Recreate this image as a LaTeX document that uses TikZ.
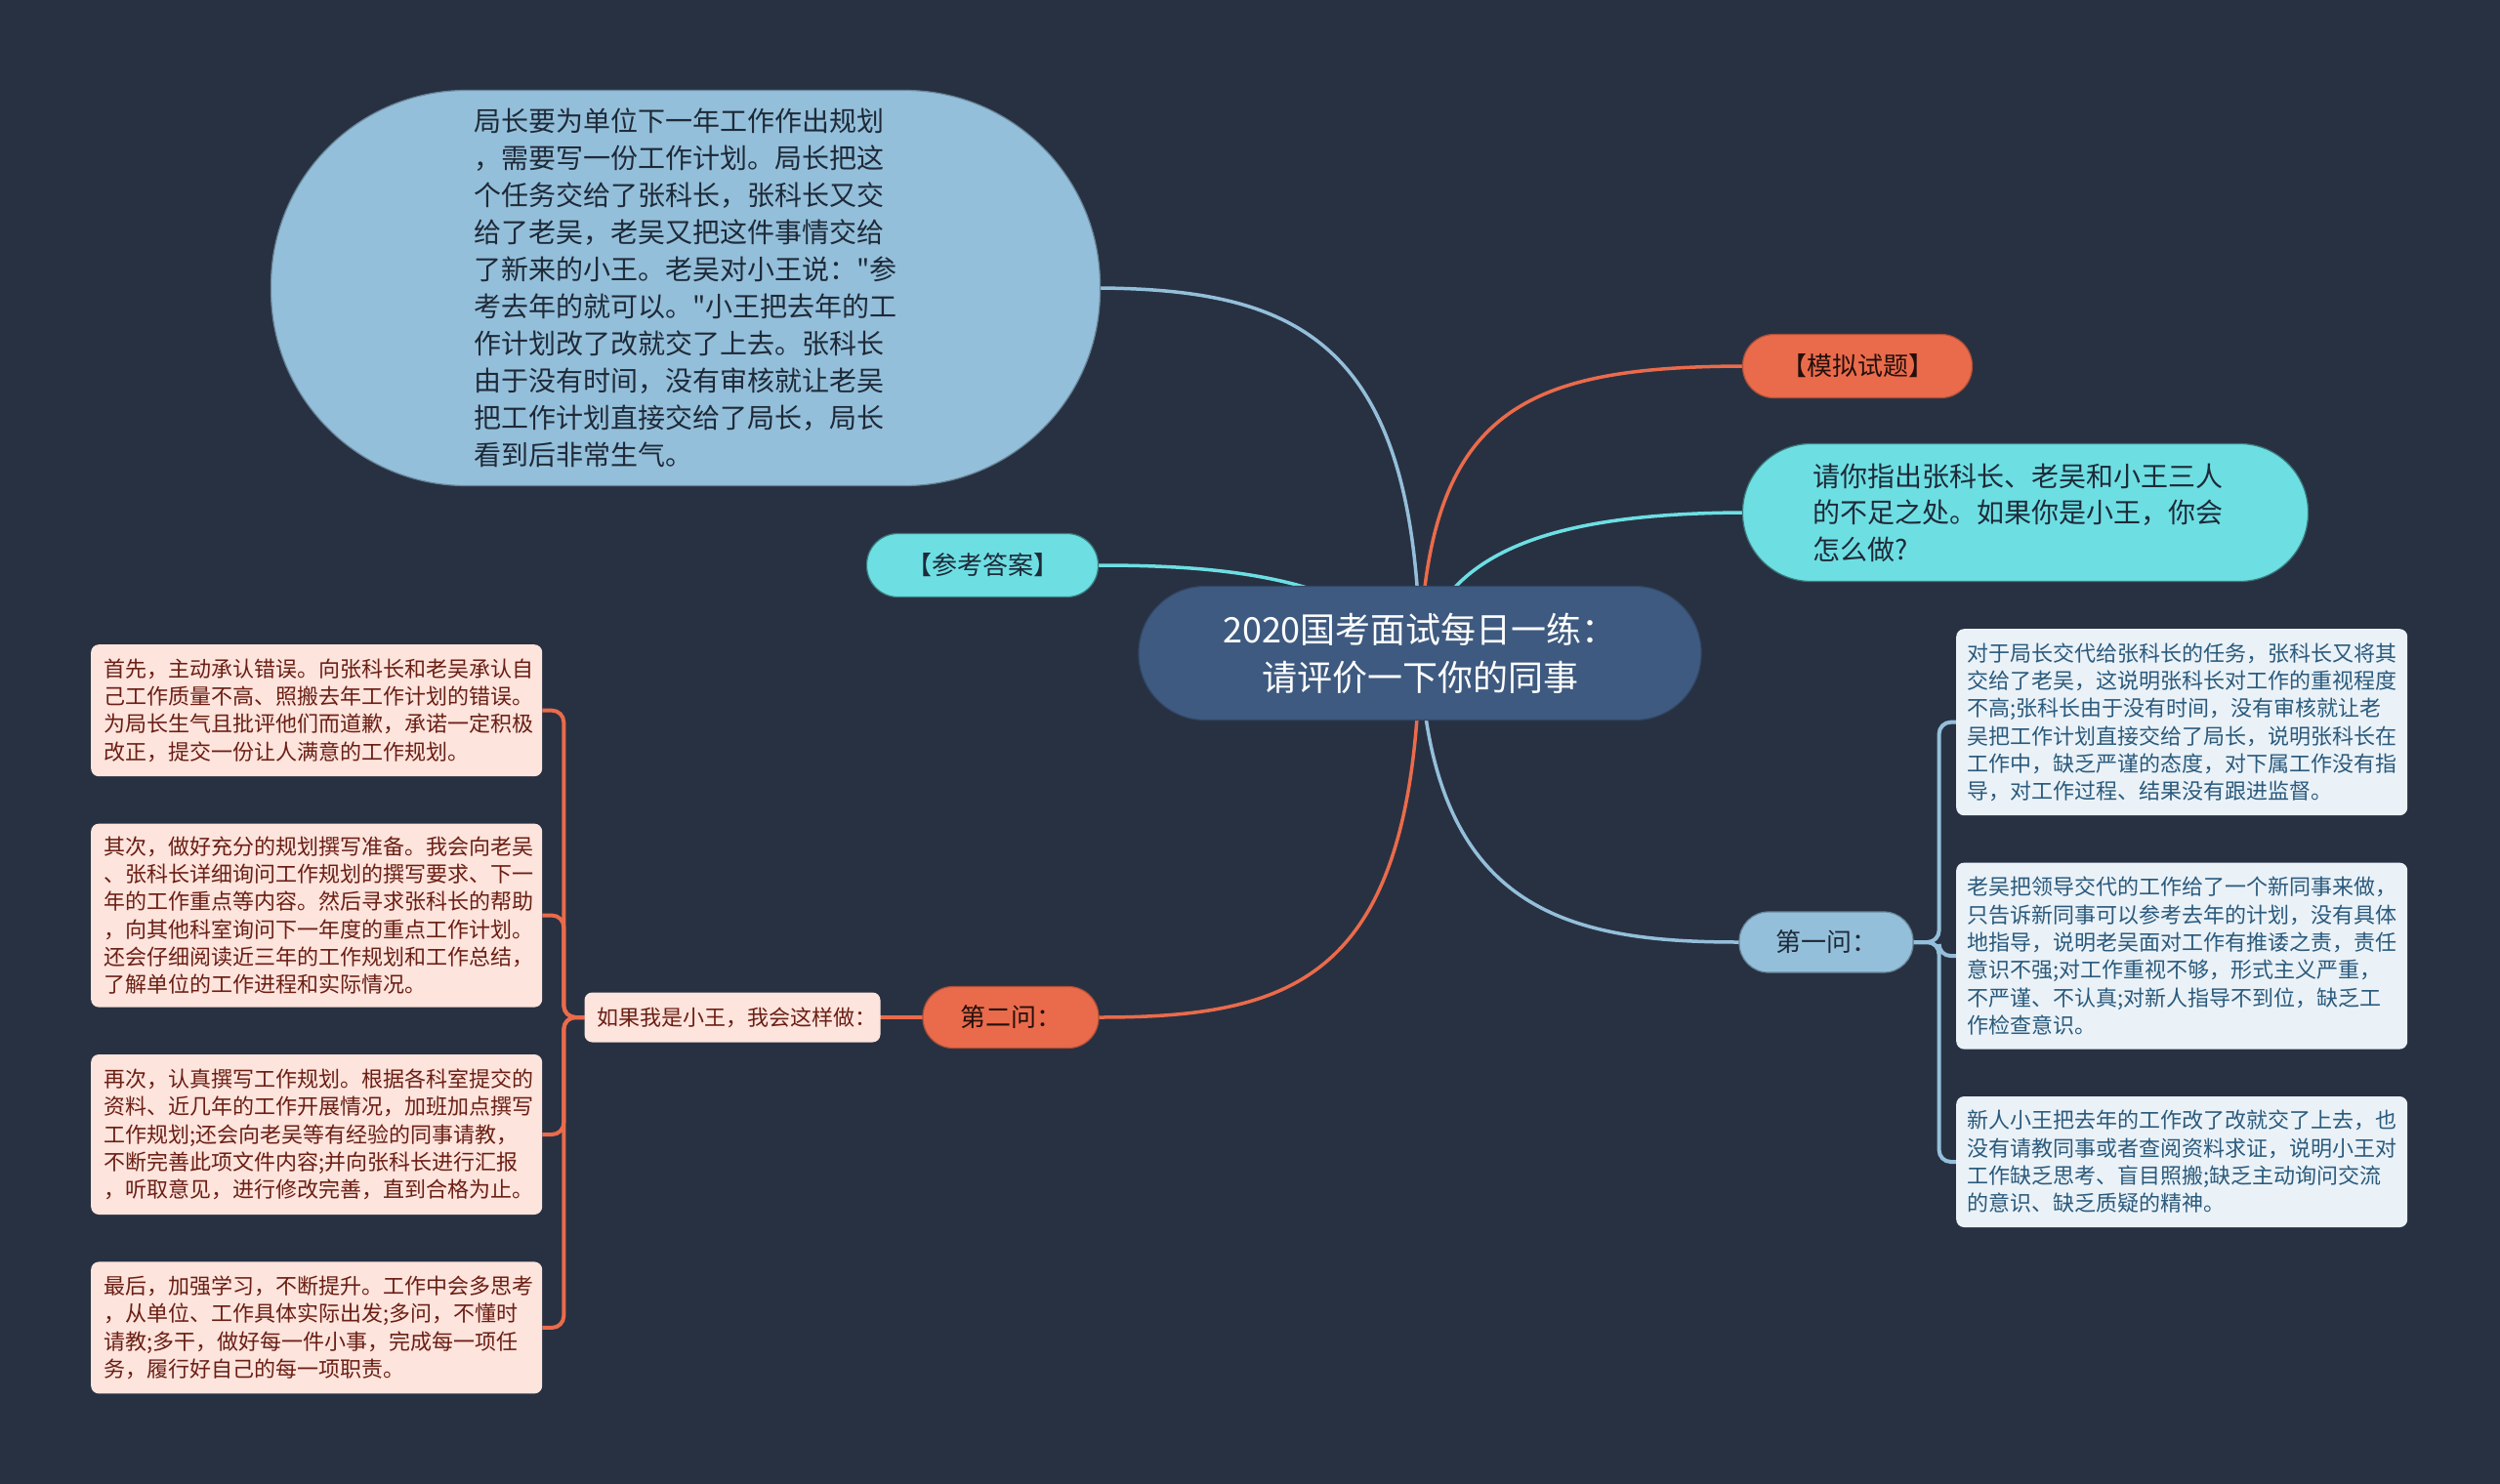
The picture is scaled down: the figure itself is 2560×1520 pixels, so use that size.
\documentclass[tikz,border=0pt]{standalone}
\usepackage{fontspec}
\setmainfont{Noto Sans CJK SC}[Ligatures=TeXOff]
\usetikzlibrary{positioning,backgrounds}
\pgfdeclarelayer{canvas}
\pgfsetlayers{canvas,background,main}
\definecolor{bgdark}{HTML}{283142}
\definecolor{rootblue}{HTML}{3E5A80}
\definecolor{paleblue}{HTML}{94BFDA}
\definecolor{aqua}{HTML}{6DDFE3}
\definecolor{coral}{HTML}{EA6B4B}
\definecolor{blush}{HTML}{FDE4DD}
\definecolor{mist}{HTML}{EAF2F8}
\definecolor{inkred}{HTML}{6B1F14}
\definecolor{inkblue}{HTML}{2B5A7C}
\definecolor{inkdark}{HTML}{1E2A38}
\newcommand{\fs}[2]{\fontsize{#1}{#2}\selectfont}
\tikzset{
  pill/.style={
    rectangle,
    align=left,
    inner sep=0pt,
    text=inkdark,
    line width=1.2pt
  },
  rootpill/.style={
    pill,
    align=center,
    fill=rootblue,
    draw=rootblue!80!black,
    text=white,
    minimum width=576pt,
    minimum height=137pt,
    rounded corners=68pt,
    font=\fs{36}{49}
  },
  bluepill/.style={
    pill,
    fill=paleblue,
    draw=paleblue!70!black
  },
  aquapill/.style={
    pill,
    fill=aqua,
    draw=aqua!55!black,
    text=inkdark
  },
  coralpill/.style={
    pill,
    fill=coral,
    draw=coral!75!black,
    text=black!85!coral
  },
  leftbox/.style={
    rectangle,
    rounded corners=8pt,
    fill=blush,
    text=inkred,
    align=left,
    text width=436pt,
    inner xsep=13pt,
    inner ysep=0pt,
    font=\fs{22}{28.3}
  },
  rightbox/.style={
    leftbox,
    fill=mist,
    text=inkblue,
    text width=440pt,
    inner xsep=11pt
  },
  link/.style={
    line width=3.5pt,
    line cap=round
  },
  bracket/.style={
    line width=4pt,
    rounded corners=12pt
  }
}
\begin{document}
\begin{tikzpicture}[x=1pt, y=-1pt, node distance=48pt]
  \begin{pgfonlayer}{canvas}
    \fill[bgdark] (0,0) rectangle (2560,1520);
  \end{pgfonlayer}
  \useasboundingbox (0,0) rectangle (2560,1520);

  \node[rootpill] (root) at (1454,669) {2020国考面试每日一练：\\请评价一下你的同事};

  \node[bluepill, minimum width=849pt, minimum height=405pt, rounded corners=200pt, font=\fs{28}{38}] (story) at (702,295)
    {局长要为单位下一年工作作出规划\\，需要写一份工作计划。局长把这\\个任务交给了张科长，张科长又交\\给了老吴，老吴又把这件事情交给\\了新来的小王。老吴对小王说："参\\考去年的就可以。"小王把去年的工\\作计划改了改就交了上去。张科长\\由于没有时间，没有审核就让老吴\\把工作计划直接交给了局长，局长\\看到后非常生气。};
  \node[coralpill, minimum width=235pt, minimum height=65pt, rounded corners=32pt, font=\fs{26}{30}] (mock) at (1902,375) {【模拟试题】};
  \node[aquapill, text width=436pt, minimum width=579pt, minimum height=141pt, rounded corners=70pt, font=\fs{28}{37.5}] (task) at (2074,525)
    {请你指出张科长、老吴和小王三人\\的不足之处。如果你是小王，你会\\怎么做?};
  \node[aquapill, minimum width=237pt, minimum height=65pt, rounded corners=32pt, font=\fs{26}{30}] (answer) at (1006,579) {【参考答案】};
  \node[bluepill, minimum width=178pt, minimum height=62pt, rounded corners=30pt, font=\fs{26}{30}] (q1) at (1870,965) {第一问：};
  \node[coralpill, minimum width=180pt, minimum height=63pt, rounded corners=31pt, font=\fs{26}{30}] (q2) at (1035,1042) {第二问：};
  \node[leftbox, text width=277pt, minimum height=51pt, font=\fs{22}{26}] (plan) at (750,1042) {如果我是小王，我会这样做：};

  \node[leftbox, minimum height=135pt, anchor=north west] (a1) at (93,660)
    {首先，主动承认错误。向张科长和老吴承认自\\己工作质量不高、照搬去年工作计划的错误。\\为局长生气且批评他们而道歉，承诺一定积极\\改正，提交一份让人满意的工作规划。};
  \node[leftbox, minimum height=188pt, below=of a1] (a2)
    {其次，做好充分的规划撰写准备。我会向老吴\\、张科长详细询问工作规划的撰写要求、下一\\年的工作重点等内容。然后寻求张科长的帮助\\，向其他科室询问下一年度的重点工作计划。\\还会仔细阅读近三年的工作规划和工作总结，\\了解单位的工作进程和实际情况。};
  \node[leftbox, minimum height=164pt, below=of a2] (a3)
    {再次，认真撰写工作规划。根据各科室提交的\\资料、近几年的工作开展情况，加班加点撰写\\工作规划;还会向老吴等有经验的同事请教，\\不断完善此项文件内容;并向张科长进行汇报\\，听取意见，进行修改完善，直到合格为止。};
  \node[leftbox, minimum height=135pt, below=of a3] (a4)
    {最后，加强学习，不断提升。工作中会多思考\\，从单位、工作具体实际出发;多问，不懂时\\请教;多干，做好每一件小事，完成每一项任\\务，履行好自己的每一项职责。};

  \node[rightbox, minimum height=191pt, anchor=north west] (f1) at (2003,644)
    {对于局长交代给张科长的任务，张科长又将其\\交给了老吴，这说明张科长对工作的重视程度\\不高;张科长由于没有时间，没有审核就让老\\吴把工作计划直接交给了局长，说明张科长在\\工作中，缺乏严谨的态度，对下属工作没有指\\导，对工作过程、结果没有跟进监督。};
  \node[rightbox, minimum height=191pt, below=of f1] (f2)
    {老吴把领导交代的工作给了一个新同事来做，\\只告诉新同事可以参考去年的计划，没有具体\\地指导，说明老吴面对工作有推诿之责，责任\\意识不强;对工作重视不够，形式主义严重，\\不严谨、不认真;对新人指导不到位，缺乏工\\作检查意识。};
  \node[rightbox, minimum height=134pt, below=of f2] (f3)
    {新人小王把去年的工作改了改就交了上去，也\\没有请教同事或者查阅资料求证，说明小王对\\工作缺乏思考、盲目照搬;缺乏主动询问交流\\的意识、缺乏质疑的精神。};

  \begin{scope}[on background layer]
    \draw[link, paleblue] (root.center) .. controls (1450,350) and (1330,297) .. (story.east);
    \draw[link, coral] (root.center) .. controls (1462,420) and (1560,376) .. (mock.west);
    \draw[link, aqua] (root.center) .. controls (1480,560) and (1600,526) .. (task.west);
    \draw[link, aqua] (root.center) .. controls (1380,590) and (1250,579) .. (answer.east);
    \draw[link, paleblue] (root.center) .. controls (1465,930) and (1600,965) .. (q1.west);
    \draw[link, coral] (root.center) .. controls (1448,1000) and (1330,1042) .. (q2.east);
    \draw[link, coral] (q2) -- (plan);
    \foreach \n in {a1,a2,a3,a4}
      \draw[bracket, coral] (plan.west) -- ++(-21,0) |- (\n.east);
    \foreach \n in {f1,f2,f3}
      \draw[bracket, paleblue] (q1.east) -- ++(26,0) |- (\n.west);
  \end{scope}
\end{tikzpicture}
\end{document}
